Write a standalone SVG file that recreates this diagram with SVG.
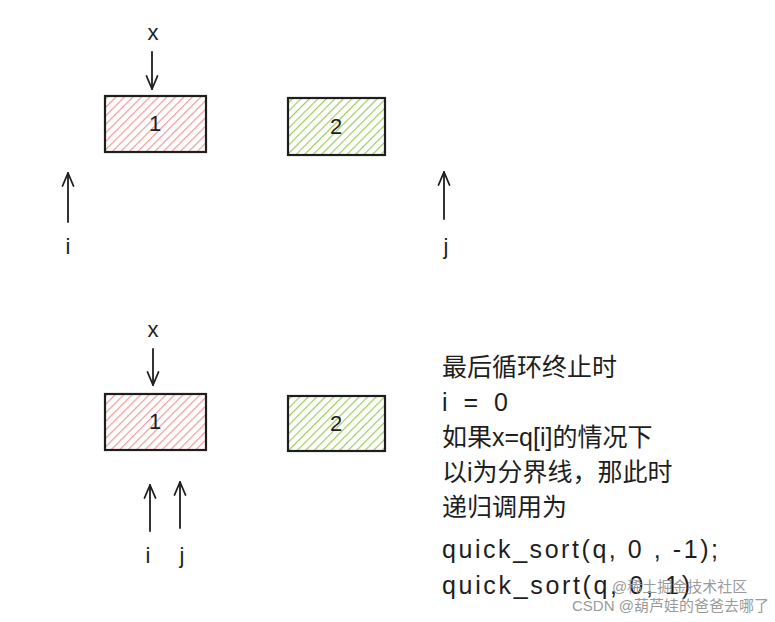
<svg xmlns="http://www.w3.org/2000/svg" width="775" height="622" viewBox="0 0 775 622">
<style>
.lbl{font-family:"Liberation Sans","DejaVu Sans",sans-serif;font-size:22px;fill:#1e1e1e;text-anchor:middle}
.box{stroke:#1e1e1e;stroke-width:2.2}
.arr{stroke:#1e1e1e;stroke-width:1.8;fill:none;stroke-linecap:round}
.t{font-family:"Liberation Sans","Noto Sans CJK SC",sans-serif;font-size:25px;fill:#1e1e1e}
.wm{font-family:"Liberation Sans","Noto Sans CJK SC",sans-serif;font-size:15px;fill:#9a9a9a}
</style>
<defs>
<pattern id="hr" patternUnits="userSpaceOnUse" width="6" height="6" patternTransform="rotate(45)">
<rect width="6" height="6" fill="#fff"/>
<line x1="0" y1="0" x2="0" y2="6" stroke="#f09a9a" stroke-width="2.4"/>
</pattern>
<pattern id="hg" patternUnits="userSpaceOnUse" width="6" height="6" patternTransform="rotate(45)">
<rect width="6" height="6" fill="#fff"/>
<line x1="0" y1="0" x2="0" y2="6" stroke="#9fcd5c" stroke-width="2.4"/>
</pattern>
<marker id="ah" markerWidth="16" markerHeight="14" refX="14" refY="7" orient="auto" markerUnits="userSpaceOnUse" viewBox="0 0 16 14">
<path d="M1,1.5 L14,7 L1,12.5" fill="none" stroke="#1e1e1e" stroke-width="1.8" stroke-linecap="round" stroke-linejoin="round"/>
</marker>
</defs>

<g id="top-x"><text class="lbl" x="153" y="40">x</text></g>
<g id="top-box1"><rect class="box" x="105" y="96" width="101" height="56" fill="url(#hr)"/><text class="lbl" x="155" y="131">1</text></g>
<g id="top-box2"><rect class="box" x="288" y="98" width="97" height="57" fill="url(#hg)"/><text class="lbl" x="336" y="134">2</text></g>
<g id="top-i"><text class="lbl" x="68" y="254">i</text></g>
<g id="top-j"><text class="lbl" x="446" y="254">j</text></g>

<g id="bot-x"><text class="lbl" x="153" y="337">x</text></g>
<g id="bot-box1"><rect class="box" x="105" y="394" width="101" height="56" fill="url(#hr)"/><text class="lbl" x="155" y="429">1</text></g>
<g id="bot-box2"><rect class="box" x="288" y="396" width="97" height="55" fill="url(#hg)"/><text class="lbl" x="336" y="431">2</text></g>
<g id="bot-i"><text class="lbl" x="148" y="563">i</text></g>
<g id="bot-j"><text class="lbl" x="182" y="563">j</text></g>

<g id="connectors">
<path class="arr" d="M152,52 L152,89" marker-end="url(#ah)"/>
<path class="arr" d="M68,222 L68,173" marker-end="url(#ah)"/>
<path class="arr" d="M444,219 L444,172" marker-end="url(#ah)"/>
<path class="arr" d="M153,349 L153,385" marker-end="url(#ah)"/>
<path class="arr" d="M150,531 L150,485" marker-end="url(#ah)"/>
<path class="arr" d="M180,528 L180,482" marker-end="url(#ah)"/>
</g>

<g id="note">
<text class="t" x="442" y="376">最后循环终止时</text>
<text class="t" x="442" y="411" textLength="66">i = 0</text>
<text class="t" x="442" y="446">如果x=q[i]的情况下</text>
<text class="t" x="442" y="481">以i为分界线，那此时</text>
<text class="t" x="442" y="516">递归调用为</text>
<text class="t" x="442" y="558" textLength="276">quick_sort(q, 0 , -1);</text>
<text class="t" x="442" y="594" textLength="248">quick_sort(q, 0, 1)</text>
</g>
<g id="watermark">
<text class="wm" x="612" y="592">@稀土掘金技术社区</text>
<text class="wm" x="572" y="611">CSDN @葫芦娃的爸爸去哪了</text>
</g>
</svg>
